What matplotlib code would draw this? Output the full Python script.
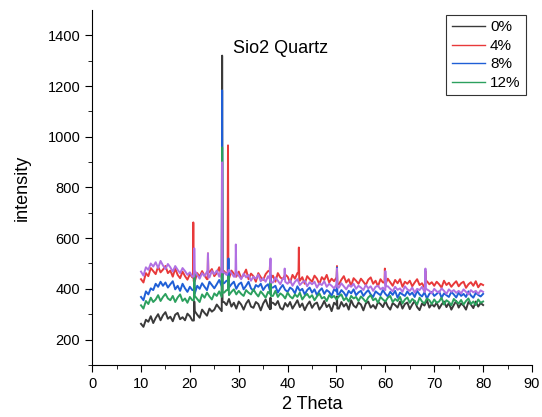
import numpy as np
import matplotlib
matplotlib.use("Agg")
from matplotlib import pyplot as plt

plt.rcParams['font.family'] = ['Liberation Sans', 'DejaVu Sans']

# 2 theta grid, 10 to 80 in 0.5 steps
two_theta = np.arange(10, 80.01, 0.5)

# background readings (0.5 deg steps)
y_0 = [262, 250, 278, 270, 292, 265, 285, 300, 276, 296,
       308, 282, 290, 272, 298, 305, 280, 288, 276, 302,
       292, 275, 312, 298, 286, 318, 305, 294, 322, 310,
       318, 338, 325, 312, 348, 336, 360, 330, 345, 322,
       350, 338, 318, 342, 356, 330, 325, 348, 340, 315,
       342, 358, 332, 320, 345, 336, 352, 325, 318, 344,
       330, 348, 322, 338, 355, 328, 342, 316, 336, 350,
       325, 340, 346, 318, 332, 352, 328, 338, 312, 345,
       336, 322, 348, 330, 342, 318, 355, 334, 326, 346,
       338, 315, 342, 350, 326, 336, 322, 348, 340, 328,
       352, 330, 318, 344, 336, 326, 350, 322, 340, 346,
       320, 338, 352, 328, 316, 342, 334, 356, 326, 340,
       330, 346, 322, 338, 350, 328, 344, 318, 336, 352,
       326, 342, 334, 318, 348, 338, 324, 350, 330, 344,
       336]
y_4 = [438, 425, 462, 450, 482, 470, 458, 488, 465, 476,
       490, 462, 472, 448, 480, 455, 442, 468, 450, 436,
       458, 445, 430, 462, 448, 470, 452, 438, 465, 478,
       450, 462, 485, 446, 470, 458, 440, 472, 460, 448,
       468, 442, 455, 476, 438, 460, 450, 428, 462, 446,
       435, 458, 470, 440, 452, 428, 462, 445, 438, 456,
       448, 425, 455, 440, 462, 432, 446, 420, 450, 438,
       428, 452, 440, 418, 446, 435, 455, 425, 440, 430,
       445, 418, 436, 450, 425, 438, 412, 442, 432, 420,
       440, 428, 415, 436, 445, 420, 432, 410, 438, 425,
       418, 440, 426, 412, 435, 422, 438, 408, 428, 420,
       432, 410, 425, 438, 415, 422, 405, 430, 418, 426,
       412, 428, 418, 405, 432, 415, 424, 408, 420, 430,
       410, 422, 428, 404, 418, 426, 412, 430, 406, 420,
       415]
y_8 = [368, 355, 390, 378, 402, 395, 420, 408, 428, 412,
       425, 405, 418, 430, 398, 412, 392, 420, 402, 388,
       408, 395, 382, 412, 400, 422, 408, 395, 428, 415,
       402, 418, 435, 410, 422, 432, 405, 418, 428, 400,
       418, 425, 398, 412, 428, 402, 392, 415, 408, 420,
       395, 410, 418, 390, 405, 412, 385, 402, 415, 396,
       388, 405, 398, 382, 410, 392, 400, 378, 395, 405,
       385, 398, 375, 392, 402, 380, 395, 388, 372, 398,
       390, 378, 395, 385, 370, 392, 382, 398, 375, 386,
       392, 372, 385, 395, 378, 368, 390, 382, 375, 395,
       380, 370, 388, 376, 392, 365, 385, 378, 372, 390,
       376, 385, 368, 392, 378, 370, 386, 362, 380, 388,
       372, 380, 390, 365, 382, 375, 368, 388, 378, 366,
       385, 372, 380, 368, 390, 374, 365, 384, 376, 370,
       380]
y_12 = [335, 322, 352, 340, 365, 348, 358, 375, 352, 368,
        380, 362, 355, 372, 348, 366, 378, 352, 362, 345,
        368, 355, 372, 360, 348, 378, 365, 385, 370, 358,
        382, 372, 390, 368, 385, 395, 375, 388, 398, 378,
        392, 380, 372, 395, 385, 378, 398, 382, 370, 390,
        378, 365, 388, 380, 372, 392, 368, 382, 375, 362,
        385, 370, 362, 378, 368, 385, 358, 372, 380, 365,
        375, 355, 370, 382, 362, 368, 352, 375, 365, 372,
        358, 370, 378, 355, 365, 350, 372, 362, 368, 352,
        370, 360, 348, 366, 375, 355, 362, 345, 368, 358,
        350, 365, 372, 348, 360, 352, 368, 342, 358, 366,
        345, 360, 352, 338, 365, 350, 342, 362, 355, 340,
        358, 345, 350, 365, 338, 355, 348, 335, 360, 350,
        342, 356, 338, 352, 362, 340, 350, 336, 358, 345,
        350]
y_extra = [468, 452, 485, 475, 500, 488, 505, 482, 510, 492,
           478, 498, 485, 468, 490, 475, 462, 482, 470, 455,
           465, 448, 472, 455, 440, 462, 450, 468, 445, 470,
           458, 472, 448, 480, 465, 455, 475, 462, 448, 468,
           452, 438, 460, 445, 455, 432, 448, 440, 456, 430,
           442, 428, 450, 436, 425, 445, 432, 418, 440, 428,
           420, 435, 412, 428, 438, 415, 425, 432, 410, 426,
           418, 428, 405, 422, 415, 430, 408, 420, 412, 402,
           418, 405, 422, 410, 398, 415, 408, 420, 400, 412,
           405, 395, 415, 402, 410, 392, 408, 412, 398, 405,
           395, 410, 400, 390, 408, 396, 402, 388, 410, 398,
           392, 405, 385, 400, 395, 408, 388, 398, 392, 382,
           400, 390, 385, 402, 392, 380, 398, 388, 395, 384,
           392, 382, 398, 388, 378, 395, 386, 392, 380, 394,
           388]

# peak positions and heights
peaks_0 = [(20.9, 350), (26.6, 1320), (36.5, 365), (50.1, 370)]
peaks_4 = [(20.7, 662), (23.7, 540), (27.8, 966), (36.4, 495),
           (42.3, 563), (50.1, 490), (59.9, 480), (68.2, 470)]
peaks_8 = [(20.9, 470), (26.6, 1183), (27.9, 520), (36.5, 455), (50.1, 484)]
peaks_12 = [(20.9, 460), (26.6, 958), (27.9, 450), (36.5, 425)]
peaks_extra = [(20.9, 560), (23.7, 540), (26.6, 899), (29.4, 575),
               (36.5, 520), (39.4, 480), (50.1, 480), (60.0, 470), (68.2, 480)]

labels = ['0%', '4%', '8%', '12%', None]
colors = ['#3a3a3a', '#e8393a', '#1f5fd6', '#2ca05e', '#b170e2']


def with_peaks(base, peaks):
    xs = list(two_theta)
    ys = list(base)
    for p, h in peaks:
        i = int((p - 10) // 0.5)
        xs += [p - 0.08, p, p + 0.08]
        ys += [base[i], h, base[i + 1]]
    order = np.argsort(xs)
    return np.array(xs)[order], np.array(ys)[order]


fig = plt.figure(figsize=(5.42, 4.17), dpi=100)
ax = fig.add_axes([0.170, 0.125, 0.8115, 0.851])

all_series = [(y_0, peaks_0), (y_4, peaks_4), (y_8, peaks_8),
              (y_12, peaks_12), (y_extra, peaks_extra)]
for (base, pk), lab, col in zip(all_series, labels, colors):
    x, y = with_peaks(base, pk)
    ax.plot(x, y, color=col, lw=1.4, label=lab)

ax.set_xlim(0, 90)
ax.set_ylim(100, 1500)
ax.set_xticks(range(0, 91, 10))
ax.set_xticks(range(5, 90, 10), minor=True)
ax.set_yticks(range(200, 1401, 200))
ax.set_yticks(range(100, 1500, 200), minor=True)
ax.tick_params(direction='out', labelsize=10.5, length=5)
ax.tick_params(which='minor', direction='out', length=3)
ax.spines['top'].set_visible(False)
ax.spines['right'].set_visible(False)

ax.set_xlabel('2 Theta', fontsize=13, labelpad=4)
ax.set_ylabel('intensity', fontsize=13, labelpad=12)

ax.text(28.8, 1349, 'Sio2 Quartz', fontsize=13, va='center', ha='left')

leg = ax.legend(loc='upper right', bbox_to_anchor=(0.986, 0.986), borderaxespad=0,
                fancybox=False, edgecolor='#333333', framealpha=1, fontsize=11,
                handlelength=2.2, labelspacing=0.3, handletextpad=0.3,
                borderpad=0.35)
leg.get_frame().set_linewidth(0.8)
for line in leg.get_lines():
    line.set_linewidth(1.0)

fig.savefig('out.png', dpi=100)
